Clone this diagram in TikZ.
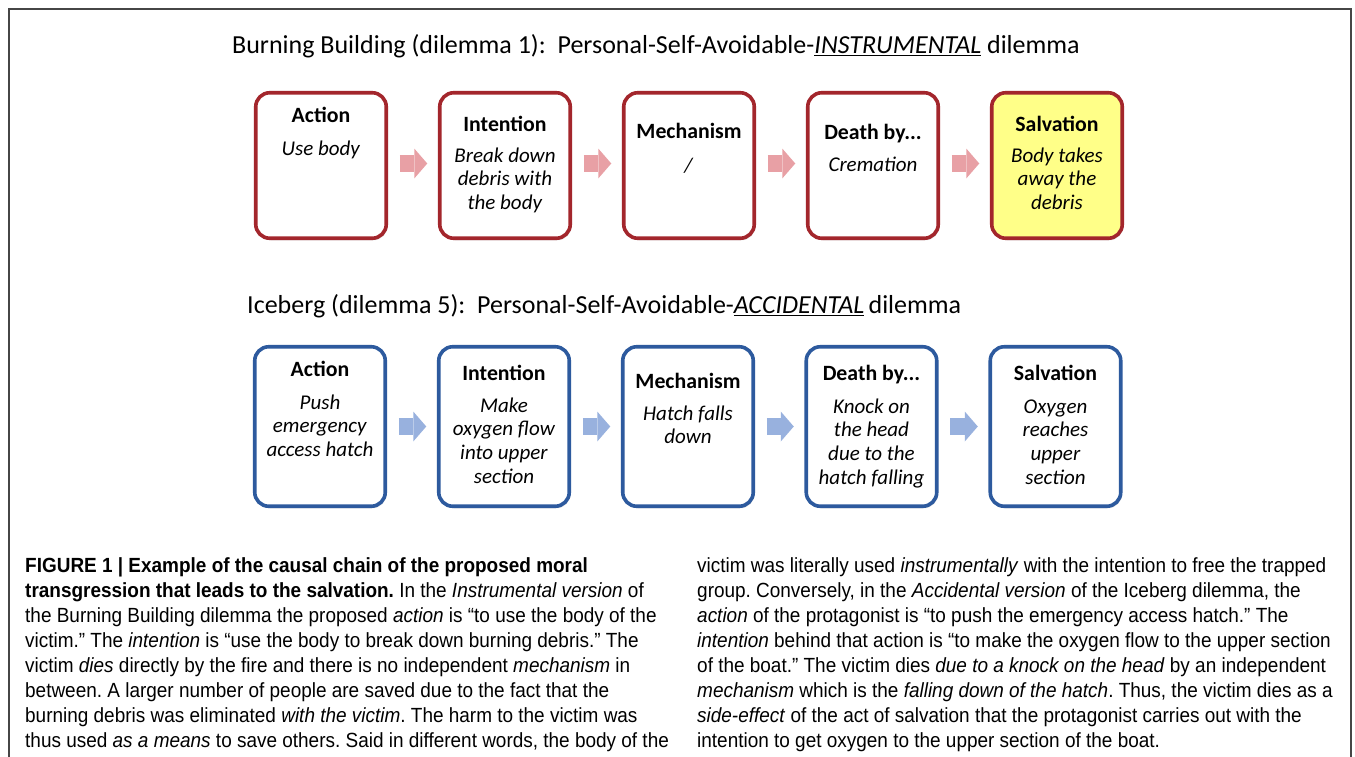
\documentclass[tikz,border=0pt]{standalone}
\usepackage{fontspec}
\setmainfont{Carlito}
\newfontfamily\capfont{Liberation Sans}[FakeStretch=0.925]
\usetikzlibrary{shadows,arrows.meta}
\definecolor{bred}{RGB}{163,38,44}
\definecolor{bblue}{RGB}{45,90,158}
\definecolor{pinkar}{RGB}{232,160,165}
\definecolor{bluear}{RGB}{152,177,222}
\definecolor{yel}{RGB}{255,255,136}
\definecolor{framec}{RGB}{70,70,70}
\newcommand\myul[1]{\vtop{\hbox{#1}\kern1.5pt\hrule height1.6pt}}
\newcommand\hd[1]{\rule{0pt}{17pt}{\fontsize{21.8}{23.6}\selectfont\bfseries #1}}
\frenchspacing
\begin{document}
\begin{tikzpicture}[x=1pt,y=-1pt,
  box/.style={draw, line width=3.6pt, rounded corners=14pt, minimum width=130.5pt,
    inner sep=0pt, outer sep=0pt, fill=white,
    drop shadow={shadow xshift=1.2pt, shadow yshift=-2pt, opacity=0.25}},
  redbox/.style={box, draw=bred, minimum height=145.5pt},
  bluebox/.style={box, draw=bblue, minimum height=159.5pt},
  boxtext/.style={font=\fontsize{21}{23.6}\selectfont, align=center, inner sep=0pt, anchor=north},
  titletext/.style={font=\fontsize{26}{30}\selectfont, inner sep=0pt, anchor=base west},
  captext/.style={font=\capfont\fontsize{20.5}{25}\selectfont, align=left, inner sep=0pt, anchor=north west},
  redarrow/.style={draw=pinkar, line width=17pt, -{Triangle[width=30pt,length=13pt,line width=0pt]},
    shorten <=13.5pt, shorten >=12.5pt},
  bluearrow/.style={redarrow, draw=bluear}]
\useasboundingbox (0,0) rectangle (1355,756);
\fill[white] (0,0) rectangle (1355,756);
\draw[framec, line width=1.3pt] (9,760) -- (9,9) -- (1351,9) -- (1351,760);

% titles
\node[titletext] (title1) at (232,53) {Burning Building (dilemma 1):\ \ Personal-Self-Avoidable-\myul{\textit{INSTRUMENTAL}} dilemma};
\node[titletext] (title2) at (247,313) {Iceberg (dilemma 5):\ \ Personal-Self-Avoidable-\myul{\textit{ACCIDENTAL}}\,dilemma};

% row 1 boxes
\node[redbox] (a1) at (321,165.5) {};
\node[redbox] (a2) at (505,165.5) {};
\node[redbox] (a3) at (689,165.5) {};
\node[redbox] (a4) at (873,165.5) {};
\node[redbox, fill=yel] (a5) at (1057,165.5) {};
\draw[redarrow] ([yshift=2pt]a1.east) -- ([yshift=2pt]a2.west);
\draw[redarrow] ([yshift=2pt]a2.east) -- ([yshift=2pt]a3.west);
\draw[redarrow] ([yshift=2pt]a3.east) -- ([yshift=2pt]a4.west);
\draw[redarrow] ([yshift=2pt]a4.east) -- ([yshift=2pt]a5.west);

\node[boxtext] (ta1) at (321,105) {\hd{Action}\\[9.4pt]\textit{Use body}};
\node[boxtext] (ta2) at (505,114) {\hd{Intention}\\[7.4pt]\textit{Break down}\\\textit{debris with}\\\textit{the body}};
\node[boxtext] (ta3) at (689,121) {\hd{Mechanism}\\[10.4pt]\textit{/}};
\node[boxtext] (ta4) at (873,122) {\hd{Death by...}\\[8.4pt]\textit{Cremation}};
\node[boxtext] (ta5) at (1057,114) {\hd{Salvation}\\[7.4pt]\textit{Body takes}\\\textit{away the}\\\textit{debris}};

% row 2 boxes
\node[bluebox] (b1) at (320,426.5) {};
\node[bluebox] (b2) at (504,426.5) {};
\node[bluebox] (b3) at (688,426.5) {};
\node[bluebox] (b4) at (871.5,426.5) {};
\node[bluebox] (b5) at (1055.5,426.5) {};
\draw[bluearrow] (b1) -- (b2);
\draw[bluearrow] (b2) -- (b3);
\draw[bluearrow] (b3) -- (b4);
\draw[bluearrow] (b4) -- (b5);

\node[boxtext] (tb1) at (320,359) {\hd{Action}\\[9.4pt]\textit{Push}\\\textit{emergency}\\\textit{access hatch}};
\node[boxtext] (tb2) at (504,363) {\hd{Intention}\\[8.4pt]\textit{Make}\\\textit{oxygen flow}\\\textit{into upper}\\\textit{section}};
\node[boxtext] (tb3) at (688,371) {\hd{Mechanism}\\[8.4pt]\textit{Hatch falls}\\\textit{down}};
\node[boxtext] (tb4) at (871.5,363) {\hd{Death by...}\\[9.4pt]\textit{Knock on}\\\textit{the head}\\\textit{due to the}\\\textit{hatch falling}};
\node[boxtext] (tb5) at (1055.5,363) {\hd{Salvation}\\[9.4pt]\textit{Oxygen}\\\textit{reaches}\\\textit{upper}\\\textit{section}};

% caption
\node[captext] (capL) at (25,557) {\rule{0pt}{15pt}\textbf{FIGURE 1 | Example of the causal chain of the proposed moral}\\
\textbf{transgression that leads to the salvation.} In the \textit{Instrumental version} of\\
the Burning Building dilemma the proposed \textit{action} is “to use the body of the\\
victim.” The \textit{intention} is “use the body to break down burning debris.” The\\
victim \textit{dies} directly by the fire and there is no independent \textit{mechanism} in\\
between. A larger number of people are saved due to the fact that the\\
burning debris was eliminated \textit{with the victim}. The harm to the victim was\\
thus used \textit{as a means} to save others. Said in different words, the body of the};
\node[captext] (capR) at (697,557) {\rule{0pt}{15pt}victim was literally used \textit{instrumentally} with the intention to free the trapped\\
group. Conversely, in the \textit{Accidental version} of the Iceberg dilemma, the\\
\textit{action} of the protagonist is “to push the emergency access hatch.” The\\
\textit{intention} behind that action is “to make the oxygen flow to the upper section\\
of the boat.” The victim dies \textit{due to a knock on the head} by an independent\\
\textit{mechanism} which is the \textit{falling down of the hatch}. Thus, the victim dies as a\\
\textit{side-effect} of the act of salvation that the protagonist carries out with the\\
intention to get oxygen to the upper section of the boat.};
\end{tikzpicture}
\end{document}
